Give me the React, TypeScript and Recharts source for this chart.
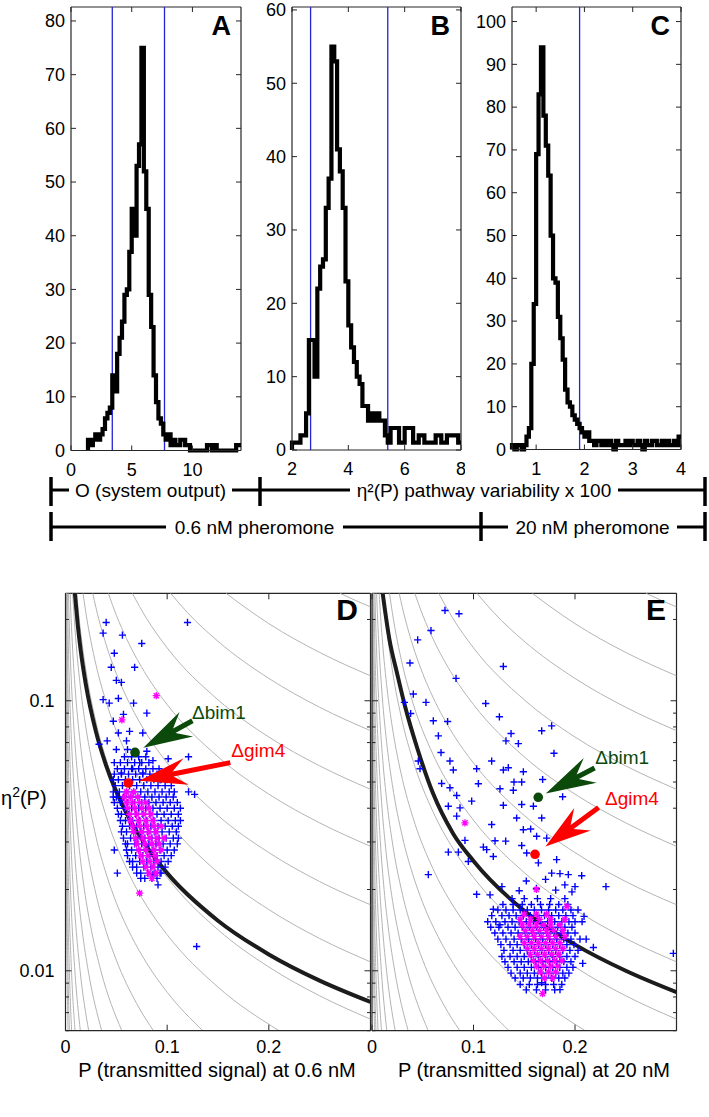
import React from "react";
import { ComposedChart, Line, Scatter, XAxis, YAxis, ReferenceLine } from "recharts";

const FONT = "'Liberation Sans', Arial, Helvetica, sans-serif";
const AXIS = "#262626";
const BLUE = "#0000ff";
const MAGENTA = "#ff00ff";
const GREEN = "#0b4a0b";
const RED = "#ff0000";
const GRAY = "#b4b4b4";
const CUT_BLUE = "#2424d8";

// ---------- top row: histograms, [bin start, count] ----------
const histA: [number, number][] = [
  [1.4, 2], [1.6, 1], [1.8, 2], [2.0, 3], [2.2, 2], [2.4, 3], [2.6, 4], [2.8, 6], [3.0, 7], [3.2, 8],
  [3.4, 14], [3.6, 11], [3.8, 18], [4.0, 21], [4.2, 24], [4.4, 29], [4.6, 30], [4.8, 37], [5.0, 45], [5.2, 40],
  [5.4, 53], [5.6, 57], [5.8, 75], [6.0, 52], [6.2, 45], [6.4, 29], [6.6, 23], [6.8, 14], [7.0, 9], [7.2, 6],
  [7.4, 5], [7.6, 3], [7.8, 2], [8.0, 3], [8.2, 1], [8.4, 2], [8.6, 1], [8.8, 1], [9.0, 2], [9.2, 2],
  [9.4, 1], [9.6, 1], [9.8, 0], [10.0, 0], [10.2, 0], [10.4, 0], [10.6, 0], [10.8, 0], [11.0, 0], [11.2, 1],
  [11.4, 1], [11.6, 0], [11.8, 1], [12.0, 0], [12.2, 0], [12.4, 0], [12.6, 0], [12.8, 0], [13.0, 0], [13.2, 0],
  [13.4, 0], [13.6, 1], [13.8, 1],
];
const histAEnd = 14;

const histB: [number, number][] = [
  [2.0, 1], [2.1, 1], [2.2, 1], [2.3, 2], [2.4, 2], [2.5, 5], [2.6, 15], [2.7, 15], [2.8, 10], [2.9, 22],
  [3.0, 25], [3.1, 26], [3.2, 33], [3.3, 37], [3.4, 55], [3.5, 53], [3.6, 41], [3.7, 38], [3.8, 33], [3.9, 23],
  [4.0, 17], [4.1, 14], [4.2, 12], [4.3, 10], [4.4, 9], [4.5, 6], [4.6, 6], [4.7, 4], [4.8, 5], [4.9, 4],
  [5.0, 5], [5.1, 4], [5.2, 4], [5.3, 2], [5.4, 1], [5.5, 3], [5.6, 3], [5.7, 3], [5.8, 1], [5.9, 1],
  [6.0, 3], [6.1, 3], [6.2, 3], [6.3, 1], [6.4, 1], [6.5, 2], [6.6, 2], [6.7, 1], [6.8, 1], [6.9, 1],
  [7.0, 1], [7.1, 2], [7.2, 2], [7.3, 1], [7.4, 1], [7.5, 2], [7.6, 2], [7.7, 2], [7.8, 2], [7.9, 1],
];
const histBEnd = 8;

const histC: [number, number][] = [
  [0.5, 1], [0.55, 0], [0.6, 1], [0.65, 1], [0.7, 0], [0.75, 1], [0.8, 3], [0.85, 5], [0.9, 20], [0.95, 34],
  [1.0, 69], [1.05, 83], [1.1, 94], [1.15, 78], [1.2, 71], [1.25, 64], [1.3, 50], [1.35, 40], [1.4, 39], [1.45, 31],
  [1.5, 26], [1.55, 21], [1.6, 14], [1.65, 11], [1.7, 10], [1.75, 8], [1.8, 7], [1.85, 6], [1.9, 5], [1.95, 4],
  [2.0, 3], [2.05, 4], [2.1, 2], [2.15, 2], [2.2, 1], [2.25, 2], [2.3, 2], [2.35, 1], [2.4, 2], [2.45, 1],
  [2.5, 2], [2.55, 1], [2.6, 0], [2.65, 2], [2.7, 1], [2.75, 1], [2.8, 1], [2.85, 2], [2.9, 1], [2.95, 2],
  [3.0, 1], [3.05, 1], [3.1, 2], [3.15, 1], [3.2, 0], [3.25, 2], [3.3, 1], [3.35, 1], [3.4, 2], [3.45, 2],
  [3.5, 1], [3.55, 1], [3.6, 2], [3.65, 1], [3.7, 2], [3.75, 1], [3.8, 1], [3.85, 2], [3.9, 1], [3.95, 3],
];
const histCEnd = 4;

const cutoffsA = [3.4, 7.7];
const cutoffsB = [2.66, 5.4];
const cutoffsC = [1.9];

const ticksAX = [0, 5, 10];
const ticksAY = [0, 10, 20, 30, 40, 50, 60, 70, 80];
const ticksBX = [2, 4, 6, 8];
const ticksBY = [0, 10, 20, 30, 40, 50, 60];
const ticksCX = [1, 2, 3, 4];
const ticksCY = [0, 10, 20, 30, 40, 50, 60, 70, 80, 90, 100];

// ---------- bottom row: P vs eta^2 ----------
const ticksP = [0, 0.1, 0.2];
const ticksEta = [0.006, 0.007, 0.008, 0.009, 0.01, 0.02, 0.03, 0.04, 0.05, 0.06, 0.07, 0.08, 0.09, 0.1, 0.2];

// gray iso-lines, [P, eta2]
const contourLines: [number, number][][] = [
  [[0.27, 0.25], [0.285, 0.2355], [0.3, 0.2226]],
  [[0.158, 0.25], [0.175, 0.224], [0.2, 0.193], [0.25, 0.151], [0.3, 0.1237]],
  [[0.1034, 0.25], [0.12, 0.212], [0.15, 0.166], [0.2, 0.121], [0.25, 0.0946], [0.3, 0.0775]],
  [[0.0657, 0.25], [0.08, 0.201], [0.1, 0.157], [0.15, 0.1008], [0.2, 0.0734], [0.25, 0.0574], [0.3, 0.047]],
  [[0.0422, 0.25], [0.05, 0.2074], [0.06, 0.17], [0.08, 0.1237], [0.1, 0.0968], [0.15, 0.062], [0.2, 0.0451], [0.25, 0.0353], [0.3, 0.0289]],
  [[0.0268, 0.25], [0.03, 0.2209], [0.04, 0.1611], [0.05, 0.126], [0.06, 0.1032], [0.08, 0.0751], [0.1, 0.0588], [0.15, 0.0376], [0.2, 0.0274], [0.25, 0.0214], [0.3, 0.01756]],
  [[0.01723, 0.25], [0.02, 0.2124], [0.03, 0.1358], [0.04, 0.099], [0.06, 0.0634], [0.08, 0.0461], [0.1, 0.0361], [0.15, 0.0231], [0.2, 0.01685], [0.25, 0.01317], [0.3, 0.01079]],
  [[0.01106, 0.25], [0.0125, 0.218], [0.015, 0.1786], [0.02, 0.1302], [0.03, 0.0832], [0.04, 0.0607], [0.06, 0.0389], [0.08, 0.0283], [0.1, 0.02216], [0.15, 0.01419], [0.2, 0.01033], [0.25, 0.00808], [0.3, 0.00662]],
  [[0.00708, 0.25], [0.0085, 0.2045], [0.01, 0.1712], [0.015, 0.1096], [0.02, 0.0799], [0.03, 0.0511], [0.04, 0.0373], [0.06, 0.0239], [0.08, 0.01737], [0.1, 0.0136], [0.15, 0.0087], [0.21, 0.006]],
  [[0.00454, 0.25], [0.0055, 0.2025], [0.007, 0.1553], [0.01, 0.1049], [0.015, 0.0672], [0.02, 0.049], [0.03, 0.0313], [0.04, 0.02284], [0.05, 0.01785], [0.065, 0.0134], [0.08, 0.01065], [0.1, 0.00833], [0.135, 0.006]],
  [[0.00291, 0.25], [0.0038, 0.186], [0.005, 0.1379], [0.0075, 0.0883], [0.01, 0.0643], [0.015, 0.0412], [0.02, 0.03], [0.03, 0.0192], [0.04, 0.014], [0.05, 0.01095], [0.07, 0.00756], [0.0865, 0.006]],
  [[0.00187, 0.25], [0.0028, 0.16], [0.0043, 0.1], [0.00635, 0.065], [0.00988, 0.04], [0.01284, 0.03], [0.01856, 0.02], [0.0257, 0.014], [0.0348, 0.01], [0.0554, 0.006]],
  [[0.0012, 0.25], [0.0018, 0.16], [0.00276, 0.1], [0.00408, 0.065], [0.00635, 0.04], [0.00824, 0.03], [0.01192, 0.02], [0.0165, 0.014], [0.02237, 0.01], [0.0356, 0.006]],
  [[0.00077, 0.25], [0.00116, 0.16], [0.00177, 0.1], [0.00262, 0.065], [0.00407, 0.04], [0.00529, 0.03], [0.00763, 0.02], [0.0106, 0.014], [0.01434, 0.01], [0.0228, 0.006]],
  [[0.00049, 0.25], [0.00074, 0.16], [0.00113, 0.1], [0.00168, 0.065], [0.00261, 0.04], [0.0034, 0.03], [0.0049, 0.02], [0.0068, 0.014], [0.0092, 0.01], [0.0146, 0.006]],
  [[0.00032, 0.25], [0.0007, 0.1], [0.00168, 0.04], [0.00315, 0.02], [0.0059, 0.01], [0.0094, 0.006]],
  [[0.0002, 0.25], [0.00047, 0.1], [0.00108, 0.04], [0.00202, 0.02], [0.0038, 0.01], [0.006, 0.006]],
  [[0.00013, 0.25], [0.0003, 0.1], [0.00069, 0.04], [0.0013, 0.02], [0.00243, 0.01], [0.00387, 0.006]],
  [[0.00008, 0.25], [0.00019, 0.1], [0.00044, 0.04], [0.00083, 0.02], [0.00156, 0.01], [0.0025, 0.006]],
];

// thick black lines
const thresholdD: [number, number][] = [
  [0.0092, 0.25], [0.012, 0.1917], [0.015, 0.1533], [0.02, 0.115], [0.03, 0.0767], [0.04, 0.0575], [0.06, 0.0383],
  [0.08, 0.02875], [0.1, 0.023], [0.15, 0.01533], [0.2, 0.0115], [0.25, 0.0092], [0.3, 0.00767],
];
const thresholdE: [number, number][] = [
  [0.0105, 0.25], [0.017, 0.17], [0.025, 0.125], [0.033, 0.094], [0.045, 0.066], [0.06, 0.0455],
  [0.08, 0.0322], [0.1, 0.0255], [0.15, 0.01667], [0.2, 0.0125], [0.25, 0.01], [0.3, 0.00833],
];

// panel D (0.6 nM): scattered strains [P, eta2]
const dBlueSparse: [number, number][] = [
  [0.04, 0.195], [0.12, 0.195], [0.037, 0.178], [0.056, 0.175], [0.075, 0.163], [0.048, 0.15], [0.045, 0.133],
  [0.068, 0.133], [0.05, 0.119], [0.055, 0.117], [0.037, 0.101], [0.043, 0.098], [0.052, 0.102], [0.067, 0.098],
  [0.08, 0.09], [0.047, 0.084], [0.057, 0.089], [0.033, 0.069], [0.041, 0.071], [0.052, 0.076], [0.063, 0.077],
  [0.076, 0.076], [0.06, 0.071], [0.061, 0.066], [0.08, 0.065], [0.05, 0.066], [0.048, 0.059], [0.073, 0.059],
  [0.086, 0.06], [0.101, 0.061], [0.121, 0.062], [0.055, 0.054], [0.066, 0.056], [0.076, 0.054], [0.093, 0.051],
  [0.101, 0.052], [0.121, 0.046], [0.127, 0.045], [0.047, 0.044], [0.055, 0.043], [0.048, 0.028], [0.051, 0.023],
  [0.086, 0.0227], [0.093, 0.023], [0.091, 0.0208], [0.129, 0.0123],
];
// dense cloud, rows of [eta2, P values]
const dBlueCloud: [number, number[]][] = [
  [0.062, [0.058, 0.065, 0.072, 0.079]],
  [0.059, [0.054, 0.061, 0.068, 0.075, 0.082]],
  [0.056, [0.051, 0.058, 0.065, 0.072, 0.079, 0.086, 0.092]],
  [0.0535, [0.048, 0.055, 0.062, 0.069, 0.076, 0.083, 0.09, 0.097]],
  [0.051, [0.047, 0.052, 0.059, 0.066, 0.073, 0.08, 0.087, 0.094, 0.1]],
  [0.0485, [0.049, 0.056, 0.063, 0.07, 0.077, 0.084, 0.091, 0.098, 0.104]],
  [0.046, [0.047, 0.053, 0.06, 0.067, 0.074, 0.081, 0.088, 0.095, 0.102, 0.107]],
  [0.044, [0.05, 0.057, 0.064, 0.071, 0.078, 0.085, 0.092, 0.099, 0.106]],
  [0.042, [0.048, 0.054, 0.061, 0.068, 0.075, 0.082, 0.089, 0.096, 0.103, 0.11]],
  [0.04, [0.051, 0.058, 0.065, 0.072, 0.079, 0.086, 0.093, 0.1, 0.107, 0.113]],
  [0.038, [0.052, 0.055, 0.062, 0.069, 0.076, 0.083, 0.09, 0.097, 0.104, 0.111]],
  [0.036, [0.054, 0.059, 0.066, 0.073, 0.08, 0.087, 0.094, 0.101, 0.108, 0.113]],
  [0.0343, [0.056, 0.063, 0.07, 0.077, 0.084, 0.091, 0.098, 0.105, 0.111]],
  [0.0327, [0.055, 0.06, 0.067, 0.074, 0.081, 0.088, 0.095, 0.102, 0.109]],
  [0.031, [0.057, 0.064, 0.071, 0.078, 0.085, 0.092, 0.099, 0.106, 0.111]],
  [0.0295, [0.059, 0.061, 0.068, 0.075, 0.082, 0.089, 0.096, 0.103, 0.11]],
  [0.028, [0.06, 0.065, 0.072, 0.079, 0.086, 0.093, 0.1, 0.107]],
  [0.0267, [0.061, 0.069, 0.076, 0.083, 0.09, 0.097, 0.104]],
  [0.0254, [0.063, 0.066, 0.073, 0.08, 0.087, 0.094, 0.101]],
  [0.0242, [0.066, 0.07, 0.077, 0.084, 0.091, 0.098]],
  [0.023, [0.07, 0.074, 0.081, 0.088, 0.094]],
  [0.022, [0.074, 0.078, 0.085, 0.09]],
];
const dMagentaSparse: [number, number][] = [[0.0893, 0.1044], [0.0555, 0.085], [0.0729, 0.0194]];
const dMagentaCloud: [number, number[]][] = [
  [0.046, [0.06, 0.067]],
  [0.044, [0.058, 0.064, 0.071]],
  [0.042, [0.06, 0.066, 0.073, 0.079]],
  [0.04, [0.061, 0.068, 0.075, 0.082]],
  [0.038, [0.063, 0.07, 0.077, 0.084]],
  [0.036, [0.064, 0.072, 0.079, 0.086]],
  [0.0343, [0.066, 0.073, 0.08, 0.087, 0.094]],
  [0.0327, [0.067, 0.075, 0.082, 0.089]],
  [0.031, [0.069, 0.076, 0.083, 0.09, 0.097]],
  [0.0295, [0.07, 0.078, 0.085, 0.092]],
  [0.028, [0.072, 0.079, 0.087, 0.094]],
  [0.0267, [0.074, 0.081, 0.088]],
  [0.0254, [0.076, 0.083, 0.09]],
  [0.0242, [0.079, 0.086]],
  [0.023, [0.082, 0.089]],
  [0.022, [0.085]],
];
const dMutants = [
  { name: "\u0394bim1", p: 0.0684, eta: 0.0644 },
  { name: "\u0394gim4", p: 0.0618, eta: 0.0496 },
];

// panel E (20 nM)
const eBlueSparse: [number, number][] = [
  [0.0719, 0.216], [0.0857, 0.21], [0.0581, 0.182], [0.045, 0.168], [0.0374, 0.138], [0.1294, 0.134], [0.0828, 0.121],
  [0.0407, 0.1059], [0.0319, 0.0986], [0.0532, 0.0986], [0.112, 0.0977], [0.0381, 0.0897], [0.0604, 0.0843],
  [0.0745, 0.0838], [0.1255, 0.0872], [0.1672, 0.0774], [0.177, 0.0807], [0.137, 0.0756], [0.132, 0.071],
  [0.1442, 0.0694], [0.0654, 0.0741], [0.068, 0.0643], [0.0768, 0.0598], [0.0456, 0.0598], [0.0473, 0.056],
  [0.0801, 0.0554], [0.1031, 0.056], [0.1179, 0.0598], [0.1343, 0.0565], [0.1294, 0.0554], [0.1491, 0.0546],
  [0.1681, 0.0511], [0.1793, 0.0639], [0.0686, 0.0494], [0.1048, 0.0493], [0.1261, 0.0472], [0.1399, 0.05],
  [0.1475, 0.05], [0.1392, 0.0466], [0.1878, 0.0441], [0.0768, 0.0476], [0.0834, 0.0446], [0.0982, 0.0425],
  [0.0752, 0.0407], [0.0867, 0.0401], [0.1294, 0.041], [0.1475, 0.0413], [0.159, 0.0407], [0.0834, 0.0374],
  [0.1179, 0.0348], [0.1425, 0.0368], [0.1672, 0.0368], [0.1563, 0.0335], [0.1491, 0.0333], [0.1622, 0.0315],
  [0.1721, 0.031], [0.0916, 0.0304], [0.1212, 0.0303], [0.1317, 0.0302], [0.1475, 0.0291], [0.0752, 0.0275],
  [0.0851, 0.0275], [0.1097, 0.0287], [0.113, 0.0281], [0.1195, 0.0265], [0.0949, 0.0254], [0.1524, 0.0273],
  [0.1639, 0.0251], [0.1819, 0.0258], [0.0555, 0.0227], [0.177, 0.023], [0.1852, 0.0229], [0.1934, 0.0227],
  [0.2066, 0.0225], [0.2305, 0.0205], [0.2, 0.0205], [0.1031, 0.0192], [0.1163, 0.0191], [0.1195, 0.0169],
  [0.1261, 0.0148], [0.2089, 0.0159], [0.2181, 0.0122], [0.2076, 0.01065], [0.2049, 0.0131], [0.2969, 0.0116],
  [0.1852, 0.00852], [0.1672, 0.00903],
  [0.128, 0.0205], [0.145, 0.0198], [0.152, 0.0215], [0.162, 0.0202], [0.171, 0.0218], [0.181, 0.0199],
  [0.19, 0.0208], [0.197, 0.0196],
];
const eBlueCloud: [number, number[]][] = [
  [0.0185, [0.138, 0.15, 0.163, 0.176, 0.19]],
  [0.0176, [0.129, 0.139, 0.148, 0.157, 0.166, 0.175, 0.184, 0.193]],
  [0.0168, [0.124, 0.132, 0.139, 0.146, 0.153, 0.16, 0.167, 0.174, 0.181, 0.188, 0.196, 0.203]],
  [0.016, [0.118, 0.128, 0.135, 0.142, 0.149, 0.156, 0.163, 0.17, 0.177, 0.184, 0.191, 0.198]],
  [0.0152, [0.114, 0.122, 0.131, 0.138, 0.145, 0.152, 0.159, 0.166, 0.173, 0.18, 0.187, 0.194, 0.2, 0.207]],
  [0.0145, [0.117, 0.125, 0.134, 0.141, 0.148, 0.155, 0.162, 0.169, 0.176, 0.183, 0.19, 0.197]],
  [0.0138, [0.121, 0.129, 0.137, 0.144, 0.151, 0.158, 0.165, 0.172, 0.179, 0.186, 0.193, 0.2]],
  [0.0131, [0.124, 0.132, 0.14, 0.147, 0.154, 0.161, 0.168, 0.175, 0.182, 0.189, 0.196, 0.211]],
  [0.0125, [0.127, 0.136, 0.143, 0.15, 0.157, 0.164, 0.171, 0.178, 0.185, 0.192, 0.199]],
  [0.0119, [0.13, 0.139, 0.146, 0.153, 0.16, 0.167, 0.174, 0.181, 0.188, 0.195, 0.203]],
  [0.0113, [0.128, 0.136, 0.143, 0.15, 0.157, 0.164, 0.171, 0.178, 0.185, 0.192, 0.2]],
  [0.0108, [0.131, 0.14, 0.147, 0.154, 0.161, 0.168, 0.175, 0.182, 0.189, 0.196]],
  [0.0103, [0.134, 0.143, 0.15, 0.157, 0.164, 0.171, 0.178, 0.185, 0.192, 0.198]],
  [0.0098, [0.137, 0.146, 0.153, 0.16, 0.167, 0.174, 0.181, 0.188, 0.194]],
  [0.0094, [0.141, 0.149, 0.156, 0.163, 0.17, 0.177, 0.184, 0.19]],
  [0.0089, [0.146, 0.155, 0.163, 0.171, 0.179, 0.187]],
  [0.0085, [0.152, 0.162, 0.171, 0.18]],
];
const eMagentaSparse: [number, number][] = [[0.0916, 0.0353], [0.1681, 0.00823], [0.162, 0.02], [0.192, 0.0173]];
const eMagentaCloud: [number, number[]][] = [
  [0.0162, [0.15, 0.162, 0.172]],
  [0.0155, [0.146, 0.156, 0.165, 0.176, 0.19]],
  [0.0148, [0.148, 0.155, 0.162, 0.169, 0.176, 0.185]],
  [0.0141, [0.151, 0.158, 0.165, 0.172, 0.179, 0.188]],
  [0.0134, [0.146, 0.153, 0.16, 0.167, 0.174, 0.181, 0.19]],
  [0.0127, [0.15, 0.157, 0.164, 0.171, 0.178, 0.185]],
  [0.0121, [0.153, 0.16, 0.167, 0.174, 0.181, 0.188]],
  [0.0115, [0.156, 0.163, 0.17, 0.177, 0.184]],
  [0.0109, [0.159, 0.166, 0.173, 0.18, 0.187]],
  [0.0104, [0.162, 0.169, 0.176, 0.183]],
  [0.0099, [0.166, 0.174, 0.181]],
  [0.0094, [0.17, 0.178]],
];
const eMutants = [
  { name: "\u0394bim1", p: 0.1638, eta: 0.0439 },
  { name: "\u0394gim4", p: 0.1606, eta: 0.027 },
];

// ---------- helpers ----------
const toPts = (pairs: [number, number][]) => pairs.map(([x, y]) => ({ x, y }));
const fromRows = (rows: [number, number[]][]) =>
  rows.flatMap(([eta, ps]) => ps.map((p) => ({ x: p, y: eta })));

type ArrowStyle = { angle: number; gap: number; len: number; head: number; half: number; shaft: number; color: string; dx: number; dy: number };

const arrowsD: Record<string, ArrowStyle> = {
  "\u0394bim1": { angle: -28.8, gap: 9.5, len: 56, head: 49, half: 14, shaft: 5, color: GREEN, dx: 57, dy: -33 },
  "\u0394gim4": { angle: -11.3, gap: 11, len: 93, head: 48, half: 13.5, shaft: 5, color: RED, dx: 103, dy: -26 },
};
const arrowsE: Record<string, ArrowStyle> = {
  "\u0394bim1": { angle: -27.4, gap: 8.5, len: 55, head: 50, half: 14, shaft: 5, color: GREEN, dx: 57, dy: -33 },
  "\u0394gim4": { angle: -36.4, gap: 13, len: 66, head: 46, half: 14, shaft: 5, color: RED, dx: 70, dy: -49 },
};

const plusShape = (props: any) => {
  const { cx, cy } = props;
  if (cx == null || cy == null) return <g />;
  const a = 3.6;
  return <path d={`M${cx - a},${cy}H${cx + a}M${cx},${cy - a}V${cy + a}`} stroke={BLUE} strokeWidth={1.4} fill="none" />;
};

const starShape = (props: any) => {
  const { cx, cy } = props;
  if (cx == null || cy == null) return <g />;
  const a = 3.6;
  const b = 2.6;
  return (
    <path
      d={`M${cx - a},${cy}H${cx + a}M${cx},${cy - a}V${cy + a}M${cx - b},${cy - b}L${cx + b},${cy + b}M${cx - b},${cy + b}L${cx + b},${cy - b}`}
      stroke={MAGENTA}
      strokeWidth={1.3}
      fill="none"
    />
  );
};

const mutantShape = (styles: Record<string, ArrowStyle>) => (props: any) => {
  const { cx, cy, payload } = props;
  const s = styles[payload.name];
  if (cx == null || !s) return <g />;
  const a = (s.angle * Math.PI) / 180;
  const ux = Math.cos(a);
  const uy = Math.sin(a);
  const vx = -uy;
  const vy = ux;
  const tx = cx + ux * s.gap;
  const ty = cy + uy * s.gap;
  const pt = (u: number, v: number) => `${tx + ux * u + vx * v},${ty + uy * u + vy * v}`;
  const pts = [
    pt(0, 0),
    pt(s.head, s.half),
    pt(s.head * 0.72, s.shaft / 2),
    pt(s.len, s.shaft / 2),
    pt(s.len, -s.shaft / 2),
    pt(s.head * 0.72, -s.shaft / 2),
    pt(s.head, -s.half),
  ].join(" ");
  return (
    <g>
      <polygon points={pts} fill={s.color} />
      <circle cx={cx} cy={cy} r={4.8} fill={s.color} />
      <text x={cx + s.dx} y={cy + s.dy} fill={s.color} fontSize={19} fontFamily={FONT}>
        {payload.name}
      </text>
    </g>
  );
};

// ticks point inward and are mirrored on the opposite side of the box
const makeXTick = (plotH: number, len: number, labelDy: number, fmt: (v: number) => string) => (props: any) => {
  const { x, y, payload } = props;
  return (
    <g>
      <line x1={x} y1={y} x2={x} y2={y - len} stroke={AXIS} strokeWidth={1} />
      <line x1={x} y1={y - plotH} x2={x} y2={y - plotH + len} stroke={AXIS} strokeWidth={1} />
      <text x={x} y={y + labelDy} textAnchor="middle" fontSize={18} fontFamily={FONT} fill="#000">
        {fmt(payload.value)}
      </text>
    </g>
  );
};

const makeYTick =
  (plotW: number, lenFor: (v: number) => number, labelFor: (v: number) => string, gap: number) => (props: any) => {
    const { x, y, payload } = props;
    const v = payload.value;
    const len = lenFor(v);
    const lab = labelFor(v);
    return (
      <g>
        <line x1={x} y1={y} x2={x + len} y2={y} stroke={AXIS} strokeWidth={1} />
        <line x1={x + plotW} y1={y} x2={x + plotW - len} y2={y} stroke={AXIS} strokeWidth={1} />
        {lab ? (
          <text x={x - gap} y={y + 6.3} textAnchor="end" fontSize={18} fontFamily={FONT} fill="#000">
            {lab}
          </text>
        ) : null}
      </g>
    );
  };

type HistProps = {
  width: number;
  axisW: number;
  right: number;
  xAxisH: number;
  xDomain: [number, number];
  xTicks: number[];
  yMax: number;
  yTicks: number[];
  bins: [number, number][];
  end: number;
  cutoffs: number[];
};

function Histogram(p: HistProps) {
  const height = 481;
  const top = 7;
  const plotH = height - top - p.xAxisH;
  const plotW = p.width - p.axisW - p.right;
  const data = [
    { x: p.bins[0][0], y: 0 },
    ...toPts(p.bins),
    { x: p.end, y: p.bins[p.bins.length - 1][1] },
  ];
  return (
    <ComposedChart width={p.width} height={height} margin={{ top, right: p.right, bottom: 0, left: 0 }}>
      <XAxis
        type="number"
        dataKey="x"
        domain={p.xDomain}
        ticks={p.xTicks}
        interval={0}
        height={p.xAxisH}
        tickSize={0}
        tickMargin={0}
        tickLine={false}
        axisLine={{ stroke: AXIS, strokeWidth: 1.2 }}
        tick={makeXTick(plotH, 5, 25, (v) => String(v))}
      />
      <YAxis
        type="number"
        dataKey="y"
        domain={[0, p.yMax]}
        ticks={p.yTicks}
        interval={0}
        width={p.axisW}
        tickSize={0}
        tickMargin={0}
        tickLine={false}
        axisLine={{ stroke: AXIS, strokeWidth: 1.2 }}
        tick={makeYTick(plotW, () => 5, (v) => String(v), 6)}
      />
      <ReferenceLine y={p.yMax} stroke={AXIS} strokeWidth={1.2} />
      <ReferenceLine x={p.xDomain[1]} stroke={AXIS} strokeWidth={1.2} />
      {p.cutoffs.map((c) => (
        <ReferenceLine key={c} x={c} stroke={CUT_BLUE} strokeWidth={1.3} />
      ))}
      <Line
        data={data}
        dataKey="y"
        type="stepAfter"
        stroke="#000"
        strokeWidth={4.2}
        strokeLinejoin="miter"
        dot={false}
        isAnimationActive={false}
      />
    </ComposedChart>
  );
}

type ScatterPanelProps = {
  width: number;
  axisW: number;
  right: number;
  yLabels: boolean;
  blue: { x: number; y: number }[];
  magenta: { x: number; y: number }[];
  threshold: [number, number][];
  mutants: { name: string; p: number; eta: number }[];
  arrows: Record<string, ArrowStyle>;
};

function ScatterPanel(p: ScatterPanelProps) {
  const height = 557;
  const top = 33.3;
  const xAxisH = 86.3;
  const plotH = height - top - xAxisH;
  const plotW = p.width - p.axisW - p.right;
  const isMajor = (v: number) => v === 0.01 || v === 0.1;
  return (
    <ComposedChart width={p.width} height={height} margin={{ top, right: p.right, bottom: 0, left: 0 }}>
      <XAxis
        type="number"
        dataKey="x"
        domain={[0, 0.3]}
        ticks={ticksP}
        interval={0}
        allowDataOverflow
        height={xAxisH}
        tickSize={0}
        tickMargin={0}
        tickLine={false}
        axisLine={{ stroke: AXIS, strokeWidth: 1.2 }}
        tick={makeXTick(plotH, 6, 22.5, (v) => (v === 0 ? "0" : String(v)))}
      />
      <YAxis
        type="number"
        dataKey="y"
        scale="log"
        domain={[0.006, 0.25]}
        ticks={ticksEta}
        interval={0}
        allowDataOverflow
        width={p.axisW}
        tickSize={0}
        tickMargin={0}
        tickLine={false}
        axisLine={{ stroke: AXIS, strokeWidth: 1.2 }}
        tick={makeYTick(
          plotW,
          (v) => (isMajor(v) ? 6 : 3.5),
          (v) => (p.yLabels && isMajor(v) ? String(v) : ""),
          11
        )}
      />
      <ReferenceLine y={0.25} stroke={AXIS} strokeWidth={1.2} />
      <ReferenceLine x={0.3} stroke={AXIS} strokeWidth={1.2} />
      {contourLines.map((c, i) => (
        <Line
          key={`c${i}`}
          data={toPts(c)}
          dataKey="y"
          type="monotone"
          stroke={GRAY}
          strokeWidth={1}
          dot={false}
          isAnimationActive={false}
        />
      ))}
      <Scatter data={p.blue} dataKey="y" shape={plusShape} isAnimationActive={false} />
      <Scatter data={p.magenta} dataKey="y" shape={starShape} isAnimationActive={false} />
      <Line
        data={toPts(p.threshold)}
        dataKey="y"
        type="monotone"
        stroke="#1c1c1c"
        strokeWidth={4}
        dot={false}
        isAnimationActive={false}
      />
      <Scatter
        data={p.mutants.map((m) => ({ x: m.p, y: m.eta, name: m.name }))}
        dataKey="y"
        shape={mutantShape(p.arrows)}
        isAnimationActive={false}
      />
    </ComposedChart>
  );
}

const textStyle = { fontFamily: FONT, fill: "#000" } as const;

export default function App() {
  const dBlue = [...toPts(dBlueSparse), ...fromRows(dBlueCloud)];
  const dMag = [...toPts(dMagentaSparse), ...fromRows(dMagentaCloud)];
  const eBlue = [...toPts(eBlueSparse), ...fromRows(eBlueCloud)];
  const eMag = [...toPts(eMagentaSparse), ...fromRows(eMagentaCloud)];

  return (
    <div style={{ position: "absolute", left: 0, top: 0, width: 709, height: 1117, background: "#fff", overflow: "hidden" }}>
      {/* A */}
      <div style={{ position: "absolute", left: 0, top: 0 }}>
        <Histogram width={245} axisW={71} right={4} xAxisH={30.5} xDomain={[0, 14]} xTicks={ticksAX} yMax={82.6} yTicks={ticksAY} bins={histA} end={histAEnd} cutoffs={cutoffsA} />
      </div>
      {/* B */}
      <div style={{ position: "absolute", left: 245, top: 0 }}>
        <Histogram width={220} axisW={47} right={4} xAxisH={31} xDomain={[2, 8]} xTicks={ticksBX} yMax={60.4} yTicks={ticksBY} bins={histB} end={histBEnd} cutoffs={cutoffsB} />
      </div>
      {/* C */}
      <div style={{ position: "absolute", left: 465, top: 0 }}>
        <Histogram width={224} axisW={47} right={8} xAxisH={31.5} xDomain={[0.5, 4]} xTicks={ticksCX} yMax={103.4} yTicks={ticksCY} bins={histC} end={histCEnd} cutoffs={cutoffsC} />
      </div>

      {/* D */}
      <div style={{ position: "absolute", left: 0, top: 560 }}>
        <ScatterPanel width={375} axisW={65.5} right={4.5} yLabels blue={dBlue} magenta={dMag} threshold={thresholdD} mutants={dMutants} arrows={arrowsD} />
      </div>
      {/* E */}
      <div style={{ position: "absolute", left: 340, top: 560 }}>
        <ScatterPanel width={350} axisW={32} right={13.5} yLabels={false} blue={eBlue} magenta={eMag} threshold={thresholdE} mutants={eMutants} arrows={arrowsE} />
      </div>

      <svg width={709} height={1117} style={{ position: "absolute", left: 0, top: 0, pointerEvents: "none" }}>
        {/* panel letters */}
        <g style={textStyle} fontWeight="bold">
          <text x={231} y={35} textAnchor="end" fontSize={27}>A</text>
          <text x={450} y={35} textAnchor="end" fontSize={27}>B</text>
          <text x={670} y={35} textAnchor="end" fontSize={27}>C</text>
          <text x={358} y={620} textAnchor="end" fontSize={30}>D</text>
          <text x={666} y={620} textAnchor="end" fontSize={30}>E</text>
        </g>

        {/* brackets under the histograms */}
        <g stroke="#000" strokeWidth={3}>
          <line x1={51} y1={490} x2={69} y2={490} />
          <line x1={232} y1={490} x2={350} y2={490} />
          <line x1={618} y1={490} x2={705} y2={490} />
          <line x1={51} y1={527} x2={166} y2={527} />
          <line x1={343} y1={527} x2={508} y2={527} />
          <line x1={677} y1={527} x2={705} y2={527} />
        </g>
        <g stroke="#000" strokeWidth={3.5}>
          <line x1={51} y1={477} x2={51} y2={506} />
          <line x1={260} y1={477} x2={260} y2={506} />
          <line x1={705} y1={477} x2={705} y2={506} />
          <line x1={51} y1={512} x2={51} y2={541} />
          <line x1={481} y1={512} x2={481} y2={541} />
          <line x1={705} y1={512} x2={705} y2={541} />
        </g>
        <g style={textStyle} fontSize={19} textAnchor="middle">
          <text x={150.5} y={496.5}>O (system output)</text>
          <text x={484} y={496.5}>η²(P) pathway variability x 100</text>
          <text x={254.5} y={533.5}>0.6 nM pheromone</text>
          <text x={592.5} y={533.5}>20 nM pheromone</text>
        </g>

        {/* axis titles of D and E */}
        <text x={1} y={805} fontSize={20} style={textStyle}>
          η<tspan dy={-8} fontSize={14}>2</tspan>
          <tspan dy={8}>(P)</tspan>
        </text>
        <g style={textStyle} fontSize={20} textAnchor="middle">
          <text x={217} y={1077}>P (transmitted signal) at 0.6 nM</text>
          <text x={534} y={1077}>P (transmitted signal) at 20 nM</text>
        </g>
      </svg>
    </div>
  );
}
